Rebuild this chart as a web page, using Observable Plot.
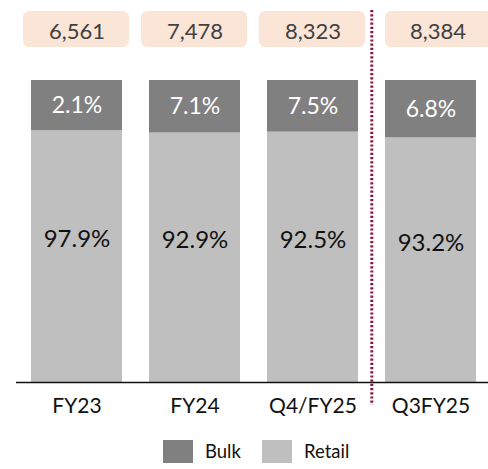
<!DOCTYPE html>
<html>
<head>
<meta charset="utf-8">
<script src="https://cdn.jsdelivr.net/npm/d3@7"></script>
<script src="https://cdn.jsdelivr.net/npm/@observablehq/plot@0.6"></script>
<style>
  html, body { margin: 0; padding: 0; background: #fff; }
  body { width: 488px; height: 469px; overflow: hidden; font-family: Lato, "Liberation Sans", sans-serif; }
  #legend { position: relative; height: 34px; }
  .sw { position: absolute; top: 5px; width: 30px; height: 23px; }
  .lb { position: absolute; top: 4px; font-size: 18.5px; line-height: 24px; color: #111; }
</style>
</head>
<body>
<div id="chart"></div>
<div id="legend">
  <div class="sw" style="left:163px;background:#808080"></div><div class="lb" style="left:205px">Bulk</div>
  <div class="sw" style="left:262px;background:#bfbfbf"></div><div class="lb" style="left:304px">Retail</div>
</div>
<script>
// ---- data ----
const categories = ["FY23", "FY24", "Q4/FY25", "Q3FY25"];
const totals = ["6,561", "7,478", "8,323", "8,384"];
const bulkLabels = ["2.1%", "7.1%", "7.5%", "6.8%"];
const retailLabels = ["97.9%", "92.9%", "92.5%", "93.2%"];
// share of each bar's drawn height (bars are not drawn to scale)
const bulkShown = [16.6, 17.4, 17.1, 19.0];
const retailShown = [83.4, 82.6, 82.9, 81.0];
const seriesNames = ["Bulk", "Retail"];
const seriesColors = ["#808080", "#bfbfbf"];

const rows = [];
categories.forEach((c, i) => {
  rows.push({cat: c, series: "Retail", share: retailShown[i], label: retailLabels[i]});
  rows.push({cat: c, series: "Bulk", share: bulkShown[i], label: bulkLabels[i]});
});
const totalRows = categories.map((c, i) => ({cat: c, total: totals[i]}));
const firstTotals = totalRows.slice(0, 3);
const lastTotals = totalRows.slice(3);

const stackOpts = {x: "cat", y: "share", z: "series", order: ["Retail", "Bulk"]};

const chart = Plot.plot({
  width: 488,
  height: 435,
  marginTop: 80,
  marginBottom: 53,
  marginLeft: 30,
  marginRight: 12,
  style: {fontFamily: "Lato, 'Liberation Sans', sans-serif", background: "white"},
  x: {domain: categories, paddingInner: 0.231, paddingOuter: 0, axis: null},
  y: {domain: [0, 100], axis: null},
  color: {domain: seriesNames, range: seriesColors},
  marks: [
    // total boxes
    Plot.barY(firstTotals, {x: "cat", y1: 0, y2: 100, fill: "#fbe5d6", rx: 6,
      insetTop: -69, insetBottom: 335, insetLeft: -8, insetRight: -7}),
    Plot.barY(lastTotals, {x: "cat", y1: 0, y2: 100, fill: "#fbe5d6", rx: 6,
      insetTop: -69, insetBottom: 335, insetLeft: 0, insetRight: -16}),
    Plot.text(firstTotals, {x: "cat", y: 100, text: "total", dy: -49, fontSize: 22, fill: "#404040"}),
    Plot.text(lastTotals, {x: "cat", y: 100, text: "total", dy: -49, dx: 7, fontSize: 22, fill: "#404040"}),
    // stacked bars
    Plot.barY(rows, Plot.stackY({...stackOpts, fill: "series"})),
    Plot.text(rows, Plot.stackY({...stackOpts, text: d => d.series === "Bulk" ? d.label : null,
      fill: "white", fontSize: 23})),
    Plot.text(rows, Plot.stackY({...stackOpts, text: d => d.series === "Retail" ? d.label : null,
      fill: "#111", fontSize: 24, dy: -17})),
    // baseline
    Plot.ruleY([0], {stroke: "#111", strokeWidth: 1.6, insetLeft: -14, insetRight: -12}),
    // dotted separator between Q4/FY25 and Q3FY25
    Plot.ruleX([categories[3]], {dx: -59.2, insetTop: -70, insetBottom: -23,
      stroke: "#8b1a3e", strokeWidth: 3, strokeDasharray: "2.2 2"}),
    // category axis
    Plot.axisX({tickSize: 0, tickPadding: 16, fontSize: 21, fill: "#111", label: null})
  ]
});
document.getElementById("chart").appendChild(chart);
</script>
</body>
</html>
